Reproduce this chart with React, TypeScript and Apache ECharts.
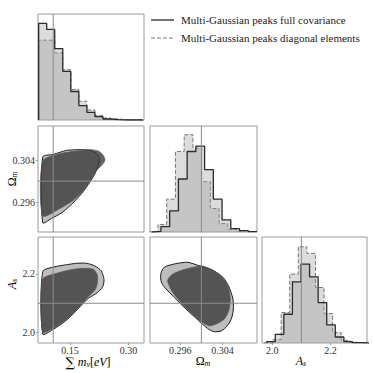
import React, { useEffect, useRef } from "react";
import * as echarts from "echarts";

// ---- axis ranges / ticks ----
const mnuRange = [0.068, 0.34];
const omRange = [0.2903, 0.3105];
const asRange = [1.965, 2.325];
const histMax = [316, 316, 317];
const truthMnu = 0.107;
const truthOm = 0.3;
const truthAs = 2.1;
const mnuTicks = [0.15, 0.3];
const omTicks = [0.296, 0.304];
const asTicks = [2.0, 2.2];

// ---- 1D histograms (bin start, bin width, heights) ----
const mnuBinsFull = { start: 0.0697, width: 0.02062 };
const mnuFull = [288, 270, 213, 145, 85, 43, 23, 10, 3, 1, 0, 0, 0];
const mnuBinsDiag = { start: 0.0697, width: 0.02062 };
const mnuDiag = [238, 238, 200, 150, 91, 56, 30, 13, 6, 3, 1, 0, 0];

const omBinsFull = { start: 0.29072, width: 0.001648 };
const omFull = [2, 16, 63, 158, 240, 256, 186, 98, 36, 10, 4, 1];
const omBinsDiag = { start: 0.29016, width: 0.001648 };
const omDiag = [1, 22, 98, 240, 290, 250, 150, 70, 25, 8, 2];

const asBinsFull = { start: 1.9811, width: 0.0294 };
const asFull = [4, 26, 86, 183, 236, 198, 121, 54, 18, 4, 1, 0];
const asBinsDiag = { start: 1.9719, width: 0.0294 };
const asDiag = [0, 10, 91, 206, 288, 268, 166, 88, 31, 8, 2];

// ---- 2D contours ----
const mnuOmFull = [
  [0.0801, 0.30458], [0.1073, 0.30509], [0.1416, 0.30585], [0.1758, 0.30598],
  [0.2014, 0.30585], [0.2186, 0.30522], [0.2253, 0.30428], [0.2227, 0.30301],
  [0.2143, 0.30143], [0.2014, 0.29984], [0.1801, 0.29764], [0.1545, 0.29561],
  [0.1288, 0.29396], [0.1032, 0.2929], [0.0801, 0.29207],
];
const mnuOmDiag = [
  [0.0801, 0.30382], [0.1245, 0.30522], [0.1673, 0.30572], [0.2014, 0.30598],
  [0.2227, 0.30572], [0.2356, 0.3049], [0.2399, 0.30395], [0.2315, 0.30301],
  [0.2186, 0.30206], [0.2058, 0.30048], [0.1886, 0.29859], [0.1586, 0.29637],
  [0.1245, 0.2948], [0.0801, 0.29339],
];
const mnuAsFull = [
  [0.0801, 2.2072], [0.1116, 2.2241], [0.1416, 2.2309], [0.1673, 2.2357],
  [0.193, 2.2357], [0.2143, 2.2265], [0.2297, 2.2106], [0.2374, 2.1813],
  [0.234, 2.1562], [0.2202, 2.1358], [0.1971, 2.1168], [0.1758, 2.0883],
  [0.1416, 2.0431], [0.1073, 2.0115], [0.0801, 1.9956],
];
const mnuAsDiag = [
  [0.0801, 2.1813], [0.116, 2.2017], [0.1586, 2.2153], [0.1886, 2.2187],
  [0.2099, 2.2153], [0.2202, 2.196], [0.2202, 2.1678], [0.2143, 2.145],
  [0.1971, 2.1223], [0.1758, 2.0907], [0.1416, 2.0455], [0.1073, 2.0149],
  [0.0801, 2.0024],
];
const omAsFull = [
  [0.29237, 2.2017], [0.29299, 2.2221], [0.29487, 2.2333], [0.29738, 2.2391],
  [0.29956, 2.2275], [0.30208, 2.2129], [0.30407, 2.1881], [0.3052, 2.1562],
  [0.30595, 2.1145], [0.30603, 2.0805], [0.30571, 2.0499], [0.3049, 2.0238],
  [0.30383, 2.0068], [0.30238, 2.0034], [0.30114, 2.0149], [0.29894, 2.0499],
  [0.29644, 2.0917], [0.29425, 2.1314], [0.2928, 2.1596], [0.29237, 2.1766],
];
const omAsDiag = [
  [0.29363, 2.1766], [0.29443, 2.197], [0.29644, 2.2129], [0.29894, 2.2241],
  [0.3002, 2.2265], [0.30208, 2.2129], [0.30407, 2.1858], [0.30509, 2.1542],
  [0.30546, 2.1145], [0.3052, 2.0771], [0.30434, 2.0465], [0.30283, 2.0296],
  [0.30133, 2.0238], [0.29894, 2.0523], [0.29656, 2.0941], [0.29457, 2.1372],
];

const legendLabels = [
  "Multi-Gaussian peaks full covariance",
  "Multi-Gaussian peaks diagonal elements",
];

const SERIF = "'Liberation Serif', 'DejaVu Serif', serif";
const FULL_COLOR = "#2b2b2b";
const DIAG_COLOR = "#777777";
const FRAME = "#9a9a9a";
const TRUTH_COLOR = "#8a8a8a";

function stepData(bins: { start: number; width: number }, h: number[]) {
  const pts: number[][] = [[bins.start, 0]];
  h.forEach((v, i) => pts.push([bins.start + i * bins.width, v]));
  const end = bins.start + h.length * bins.width;
  pts.push([end, h[h.length - 1]]);
  pts.push([end, 0]);
  return pts;
}

function histSeries(idx: number, data: number[][], dashed: boolean) {
  return {
    type: "line",
    xAxisIndex: idx,
    yAxisIndex: idx,
    step: "end",
    data,
    showSymbol: false,
    symbol: "none",
    silent: true,
    z: dashed ? 3 : 4,
    lineStyle: dashed
      ? { color: DIAG_COLOR, width: 1, type: [4, 2] }
      : { color: FULL_COLOR, width: 1.3 },
    areaStyle: { color: "#9a9a9a", opacity: 0.35 },
  };
}

function contourSeries(idx: number, pts: number[][], fill: string, stroke: string, lw: number, z: number) {
  return {
    type: "custom",
    xAxisIndex: idx,
    yAxisIndex: idx,
    z,
    silent: true,
    data: [pts[0]],
    renderItem: (_p: any, api: any) => ({
      type: "polygon",
      shape: { points: pts.map((p) => api.coord(p)), smooth: 0.25 },
      style: { fill, stroke, lineWidth: lw },
    }),
  };
}

function vLine(idx: number, x: number, lo: number, hi: number) {
  return {
    type: "line",
    xAxisIndex: idx,
    yAxisIndex: idx,
    data: [[x, lo], [x, hi]],
    symbol: "none",
    silent: true,
    z: 8,
    lineStyle: { color: TRUTH_COLOR, width: 1 },
  };
}
function hLine(idx: number, y: number, lo: number, hi: number) {
  return {
    type: "line",
    xAxisIndex: idx,
    yAxisIndex: idx,
    data: [[lo, y], [hi, y]],
    symbol: "none",
    silent: true,
    z: 8,
    lineStyle: { color: TRUTH_COLOR, width: 1 },
  };
}

function axis(idx: number, range: number[], ticks: number[] | null, digits: number, isY: boolean) {
  const show = !!ticks;
  return {
    type: "value",
    gridIndex: idx,
    min: range[0],
    max: range[1],
    splitLine: { show: false },
    axisLine: { show: false },
    axisTick: show
      ? { show: true, customValues: ticks, length: 2, lineStyle: { color: FRAME } }
      : { show: false },
    axisLabel: show
      ? {
          show: true,
          customValues: ticks,
          formatter: (v: number) => v.toFixed(digits),
          color: "#333",
          fontFamily: SERIF,
          fontSize: 10,
          margin: isY ? 3 : 2,
        }
      : { show: false },
  };
}

const richBase = {
  g: { fontFamily: SERIF, fontSize: 12, color: "#222", lineHeight: 13 },
  i: { fontFamily: SERIF, fontSize: 12, fontStyle: "italic", color: "#222", lineHeight: 13 },
  s: { fontFamily: SERIF, fontSize: 8, fontStyle: "italic", color: "#222", lineHeight: 8, verticalAlign: "bottom" },
  S: { fontFamily: "'DejaVu Serif', serif", fontSize: 13, color: "#222", lineHeight: 13 },
};

export default function App() {
  const ref = useRef<HTMLDivElement>(null);
  useEffect(() => {
    if (!ref.current) return;
    const chart = echarts.init(ref.current, undefined, { renderer: "svg" });
    const gridBox = [
      { left: 38, top: 14, width: 106, height: 106 },
      { left: 38, top: 126, width: 106, height: 106 },
      { left: 150, top: 126, width: 107, height: 106 },
      { left: 38, top: 237, width: 106, height: 106 },
      { left: 150, top: 237, width: 107, height: 106 },
      { left: 262, top: 237, width: 105, height: 106 },
    ];
    const grid = gridBox.map((g) => ({
      ...g,
      show: true,
      borderColor: FRAME,
      borderWidth: 1,
      backgroundColor: "transparent",
      containLabel: false,
      outerBoundsMode: "none",
    }));
    const xAxis = [
      axis(0, mnuRange, null, 2, false),
      axis(1, mnuRange, null, 2, false),
      axis(2, omRange, null, 3, false),
      axis(3, mnuRange, mnuTicks, 2, false),
      axis(4, omRange, omTicks, 3, false),
      axis(5, asRange, asTicks, 1, false),
    ];
    const yAxis = [
      axis(0, [0, histMax[0]], null, 0, true),
      axis(1, omRange, omTicks, 3, true),
      axis(2, [0, histMax[1]], null, 0, true),
      axis(3, asRange, asTicks, 1, true),
      axis(4, asRange, null, 1, true),
      axis(5, [0, histMax[2]], null, 0, true),
    ];
    const series: any[] = [
      histSeries(0, stepData(mnuBinsDiag, mnuDiag), true),
      histSeries(0, stepData(mnuBinsFull, mnuFull), false),
      histSeries(2, stepData(omBinsDiag, omDiag), true),
      histSeries(2, stepData(omBinsFull, omFull), false),
      histSeries(5, stepData(asBinsDiag, asDiag), true),
      histSeries(5, stepData(asBinsFull, asFull), false),
      contourSeries(1, mnuOmFull, "#bdbdbd", "#1c1c1c", 1, 2),
      contourSeries(1, mnuOmDiag, "rgba(58,58,58,0.8)", "rgba(90,90,90,0.9)", 0.8, 3),
      contourSeries(3, mnuAsFull, "#bdbdbd", "#1c1c1c", 1, 2),
      contourSeries(3, mnuAsDiag, "rgba(58,58,58,0.8)", "rgba(90,90,90,0.9)", 0.8, 3),
      contourSeries(4, omAsFull, "#bdbdbd", "#1c1c1c", 1, 2),
      contourSeries(4, omAsDiag, "rgba(58,58,58,0.8)", "rgba(90,90,90,0.9)", 0.8, 3),
      vLine(0, truthMnu, 0, histMax[0]),
      vLine(1, truthMnu, omRange[0], omRange[1]),
      hLine(1, truthOm, mnuRange[0], mnuRange[1]),
      vLine(2, truthOm, 0, histMax[1]),
      vLine(3, truthMnu, asRange[0], asRange[1]),
      hLine(3, truthAs, mnuRange[0], mnuRange[1]),
      vLine(4, truthOm, asRange[0], asRange[1]),
      hLine(4, truthAs, omRange[0], omRange[1]),
      vLine(5, truthAs, 0, histMax[2]),
    ];
    const legendY = [20, 38];
    const graphic: any[] = [
      {
        type: "line",
        shape: { x1: 151, y1: legendY[0], x2: 174, y2: legendY[0] },
        style: { stroke: FULL_COLOR, lineWidth: 1.3 },
      },
      {
        type: "line",
        shape: { x1: 151, y1: legendY[1], x2: 174, y2: legendY[1] },
        style: { stroke: DIAG_COLOR, lineWidth: 1, lineDash: [4, 2] },
      },
      ...legendLabels.map((t, k) => ({
        type: "text",
        x: 181,
        y: legendY[k],
        style: {
          text: t,
          fontFamily: SERIF,
          fontSize: 11,
          fill: "#222",
          verticalAlign: "middle",
          align: "left",
        },
      })),
      // axis names
      {
        type: "text",
        x: 12,
        y: 179,
        rotation: Math.PI / 2,
        style: { text: "{g|Ω}{s|m}", rich: richBase, align: "center", verticalAlign: "middle" },
      },
      {
        type: "text",
        x: 12,
        y: 284,
        rotation: Math.PI / 2,
        style: { text: "{i|A}{s|s}", rich: richBase, align: "center", verticalAlign: "middle" },
      },
      {
        type: "text",
        x: 88,
        y: 362,
        style: { text: "{S|∑}{i| m}{s|ν}{g|[}{i|eV}{g|]}", rich: richBase, align: "center", verticalAlign: "middle" },
      },
      {
        type: "text",
        x: 203,
        y: 361,
        style: { text: "{g|Ω}{s|m}", rich: richBase, align: "center", verticalAlign: "middle" },
      },
      {
        type: "text",
        x: 301,
        y: 361,
        style: { text: "{i|A}{s|s}", rich: richBase, align: "center", verticalAlign: "middle" },
      },
    ];
    chart.setOption({
      animation: false,
      backgroundColor: "#ffffff",
      grid,
      xAxis,
      yAxis,
      series,
      graphic,
    });
    return () => chart.dispose();
  }, []);
  return (
    <div
      ref={ref}
      style={{ position: "fixed", left: 0, top: 0, width: 374, height: 373, background: "#fff" }}
    />
  );
}
